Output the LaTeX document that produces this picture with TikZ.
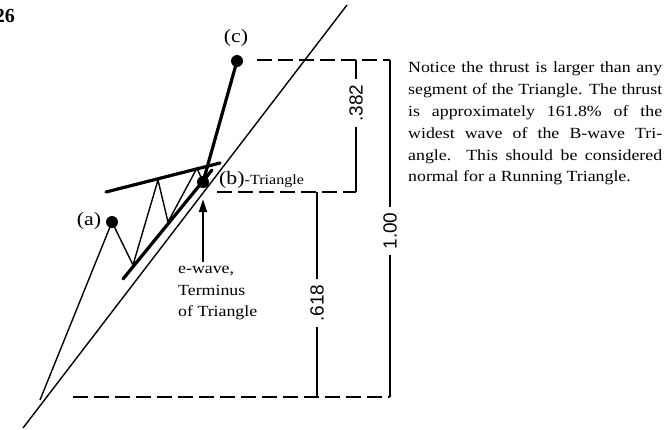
\documentclass[tikz,border=0pt]{standalone}
\usepackage{fontspec}
\setmainfont[FakeStretch=1.15]{Liberation Serif}
\newfontfamily\numfont{Liberation Sans}
\newfontfamily\pgfont{Liberation Serif}
\usetikzlibrary{arrows.meta}
\begin{document}
\begin{tikzpicture}[x=1pt,y=-1pt,
  thinline/.style={line width=1.4pt, line join=round},
  thickline/.style={line width=3.2pt, line cap=round},
  dashline/.style={line width=2.3pt, dash pattern=on 15pt off 6pt},
  bracket/.style={line width=2.1pt},
  dotnode/.style={circle, fill=black, inner sep=0pt, minimum size=12pt},
  lbl/.style={inner sep=0pt, font=\fontsize{19}{19}\selectfont},
  num/.style={inner sep=5pt, rotate=90, font=\numfont\fontsize{19}{19}\selectfont}]
\useasboundingbox (0,0) rectangle (666,429);
% page number fragment
\node[anchor=east, inner sep=0pt, font=\pgfont\bfseries\fontsize{20}{20}\selectfont] (pg) at (15,16) {26};
% trend line
\coordinate (t1) at (23,428);
\coordinate (t2) at (347,5);
\draw[thinline] (t1) -- (t2);
% triangle boundaries
\coordinate (u1) at (106,192);
\coordinate (u2) at (220,163);
\coordinate (l1) at (123,279);
\coordinate (l2) at (212,170);
\draw[thickline] (u1) -- (u2);
\draw[thickline] (l1) -- (l2);
% wave points
\coordinate (s) at (40,400);
\node[dotnode] (a) at (112,222) {};
\coordinate (w1) at (133,265);
\coordinate (w2) at (158,180);
\coordinate (w3) at (168,222);
\coordinate (w4) at (197,168);
\node[dotnode] (b) at (203,182) {};
\node[dotnode] (c) at (237,61) {};
\draw[thinline] (s) -- (a.center) -- (w1) -- (w2) -- (w3) -- (w4) -- (b.center);
\draw[thickline] (b.center) -- (c.center);
% labels
\node[lbl] (la) at (89,221) {(a)};
\node[lbl] (lc) at (236,38) {(c)};
\node[anchor=west, inner sep=0pt] (lb) at (219,180) {\fontsize{19}{19}\selectfont(b)\fontsize{14}{14}\selectfont-Triangle};
% arrow and its label
\coordinate (ar) at (203,262);
\draw[bracket, -{Triangle[length=13pt, width=8pt]}, shorten >=11pt] (ar) -- (b);
\node[anchor=north west, align=left, inner sep=0pt, font=\fontsize{15.5}{21.5}\selectfont] (ew) at (178,266) {e-wave,\\Terminus\\of Triangle};
% dashed levels
\coordinate (d1) at (257,60);
\coordinate (d1r) at (390,60);
\coordinate (d2) at (217,192);
\coordinate (d2r) at (356,192);
\coordinate (d3) at (73,397);
\coordinate (d3r) at (390,397);
\coordinate (k382) at (356,60);
\coordinate (k618) at (317,192);
\coordinate (k618b) at (317,397);
\draw[dashline] (d1) -- (d1r);
\draw[dashline] (d2) -- (d2r);
\draw[dashline] (d3) -- (d3r);
% brackets
\node[num] (n382) at (356,103) {.382};
\node[num] (n618) at (317,303) {.618};
\node[num] (n100) at (390,231) {1.00};
\draw[bracket] (k382) -- (n382.east);
\draw[bracket] (n382.west) -- (d2r);
\draw[bracket] (k618) -- (n618.east);
\draw[bracket] (n618.west) -- (k618b);
\draw[bracket] (d1r) -- (n100.east);
\draw[bracket] (n100.west) -- (d3r);
% explanatory text
\node[anchor=north west, inner sep=0pt] (txt) at (408,62) {\parbox{254pt}{\fontsize{15.5}{21.8}\selectfont
\makebox[\linewidth][s]{Notice the thrust is larger than any}\\
\makebox[\linewidth][s]{segment of the Triangle. The thrust}\\
\makebox[\linewidth][s]{is approximately 161.8\% of the}\\
\makebox[\linewidth][s]{widest wave of the B-wave Tri-}\\
\makebox[\linewidth][s]{angle.\ \ This should be considered}\\
normal for a Running Triangle.}};
\end{tikzpicture}
\end{document}
